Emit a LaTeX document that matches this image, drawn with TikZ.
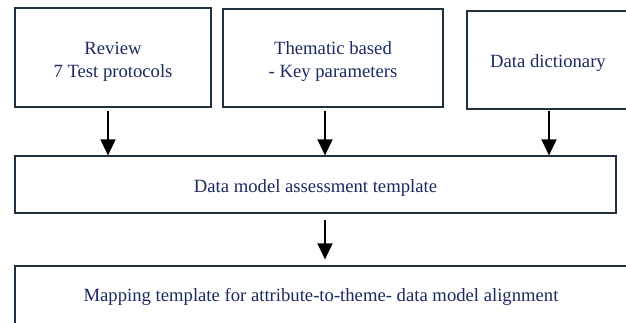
\documentclass[tikz,border=0pt]{standalone}
\usepackage{fontspec}
\setmainfont{Liberation Serif}
\usetikzlibrary{arrows.meta, positioning, calc}
\definecolor{ink}{RGB}{28,42,98}
\definecolor{frame}{RGB}{32,48,62}
\newcommand{\topstrut}{\rule{0pt}{15pt}}

\begin{document}
\begin{tikzpicture}[
    x=0.75pt, y=-0.75pt,
    box/.style={rectangle, draw=frame, line width=0.8pt, fill=white, inner sep=0pt, align=center, text=ink, font=\fontsize{14}{17.25}\selectfont},
    arr/.style={-{Triangle[length=12pt, width=11pt]}, line width=1.7pt, black},
]
\clip (0,0) rectangle (626,322);
\useasboundingbox (0,0) rectangle (626,322);
\fill[white] (0,0) rectangle (626,322);

% Sources
\node[box, minimum width=147pt, minimum height=74.25pt] (review) at (113,57.5) {\topstrut Review\\7 Test protocols};
\node[box, minimum width=165pt, minimum height=73.5pt] (thematic) at (333,58) {\topstrut Thematic based\\- Key parameters};
\node[box, minimum width=121.5pt, minimum height=73.5pt] (dict) at (548,60) {\topstrut Data dictionary};

% Templates
\node[box, minimum width=450.75pt, minimum height=42.75pt] (assess) at (315.5,184.5) {\topstrut Data model assessment template};
\node[box, minimum width=459pt, minimum height=46.5pt] (mapping) at (321,297) {Mapping template for attribute-to-theme- data model alignment};

% Arrows
\coordinate (r0) at ($(review.south)+(-5,3)$);
\coordinate (t0) at ($(thematic.south)+(-8,3)$);
\coordinate (d0) at ($(dict.south)+(1,1)$);
\coordinate (a0) at ($(assess.south)+(9.5,6)$);
\draw[arr] (r0) -- (r0 |- assess.north);
\draw[arr] (t0) -- (t0 |- assess.north);
\draw[arr] (d0) -- (d0 |- assess.north);
\draw[arr, shorten >=4.5pt] (a0) -- (a0 |- mapping.north);

\end{tikzpicture}
\end{document}
